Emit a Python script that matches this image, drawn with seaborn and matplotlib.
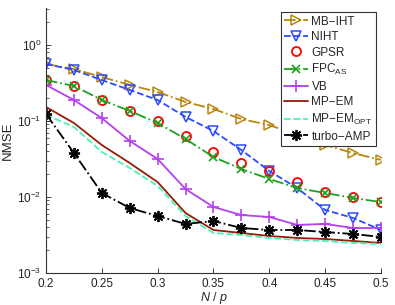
import matplotlib
matplotlib.use("Agg")
import matplotlib.pyplot as plt
import seaborn as sns
import pandas as pd

N_over_p = [0.2, 0.225, 0.25, 0.275, 0.3, 0.325, 0.35, 0.375, 0.4, 0.425, 0.45, 0.475, 0.5]

mb_iht = [0.562, 0.483, 0.379, 0.298, 0.241, 0.178, 0.144, 0.106, 0.0885, 0.0655, 0.0483, 0.0379, 0.0307]
niht = [0.562, 0.469, 0.346, 0.256, 0.189, 0.113, 0.0738, 0.0415, 0.0220, 0.0131, 0.00675, 0.00530, 0.00368]
gpsr = [0.346, 0.289, 0.189, 0.1355, 0.100, 0.0635, 0.0391, 0.0280, 0.0220, 0.0157, 0.0116, 0.0100, 0.00859]
fpc_as = [0.346, 0.289, 0.189, 0.1355, 0.0941, 0.0579, 0.0336, 0.0233, 0.0173, 0.0131, 0.0113, 0.0097, 0.00859]
vb = [0.298, 0.189, 0.109, 0.0546, 0.0316, 0.0127, 0.00738, 0.00579, 0.00546, 0.00429, 0.00442, 0.00391, 0.00391]
mp_em = [0.153, 0.0941, 0.0483, 0.0280, 0.0157, 0.00615, 0.00368, 0.00336, 0.00307, 0.00289, 0.00280, 0.00264, 0.00248]
mp_em_opt = [0.120, 0.0834, 0.0391, 0.0241, 0.0140, 0.00562, 0.00336, 0.00316, 0.00289, 0.00272, 0.00264, 0.00248, 0.00241]
turbo_amp = [0.1236, 0.0379, 0.0113, 0.00716, 0.00562, 0.00442, 0.00483, 0.00391, 0.00368, 0.00368, 0.00346, 0.00326, 0.00298]

x_ticks = [0.2, 0.25, 0.3, 0.35, 0.4, 0.45, 0.5]
x_tick_labels = ["0.2", "0.25", "0.3", "0.35", "0.4", "0.45", "0.5"]

sns.set_theme(style="white")
plt.rcParams["font.family"] = ["Liberation Sans", "DejaVu Sans"]
plt.rcParams["mathtext.fontset"] = "custom"
plt.rcParams["mathtext.rm"] = "Liberation Sans"
plt.rcParams["mathtext.it"] = "Liberation Sans:italic"

fig = plt.figure(figsize=(3.95, 3.05), dpi=100)
ax = fig.add_axes([46/395, 1-273/305, (381-46)/395, (273-8)/305])

series = [
    ("MB\u2212IHT", mb_iht, "#B8860B", "-.",
     dict(marker=">", markersize=6.5, markerfacecolor="none", markeredgewidth=1.1)),
    ("NIHT", niht, "#2A4BFF", "--",
     dict(marker="v", markersize=6.5, markerfacecolor="none", markeredgewidth=1.1)),
    ("GPSR", gpsr, "#FF0000", "None",
     dict(marker="o", markersize=6.5, markerfacecolor="none", markeredgewidth=1.3)),
    ("FPC$_{\\mathrm{AS}}$", fpc_as, "#1EA01E", "-.",
     dict(marker="x", markersize=6, markeredgewidth=1.2)),
    ("VB", vb, "#B540F0", "-",
     dict(marker="+", markersize=8, markeredgewidth=1.2)),
    ("MP\u2212EM", mp_em, "#9A1A05", "-", dict(marker="None")),
    ("MP\u2212EM$_{\\mathrm{OPT}}$", mp_em_opt, "#45F5B5", "--", dict(marker="None")),
    ("turbo\u2212AMP", turbo_amp, "black", "-.",
     dict(marker=(8, 2, 0), markersize=8, markeredgewidth=1.3)),
]

for name, vals, color, ls, mk in series:
    df = pd.DataFrame({"x": N_over_p, "y": vals})
    n_before = len(ax.lines)
    sns.lineplot(data=df, x="x", y="y", ax=ax, label=name, color=color, linewidth=1.3)
    line = ax.lines[n_before]
    line.set_linestyle(ls)
    line.set_marker(mk["marker"])
    if "markersize" in mk:
        line.set_markersize(mk["markersize"])
    if "markeredgewidth" in mk:
        line.set_markeredgewidth(mk["markeredgewidth"])
    line.set_markeredgecolor(color)
    line.set_markerfacecolor(mk.get("markerfacecolor", color))

ax.set_yscale("log")
ax.set_ylim(1e-3, 3.07)
ax.set_xlim(0.2, 0.5)
ax.set_xticks(x_ticks)
ax.set_xticklabels(x_tick_labels)

for s in ["top", "right"]:
    ax.spines[s].set_visible(False)
for s in ["left", "bottom"]:
    ax.spines[s].set_color("#333333")
    ax.spines[s].set_linewidth(0.8)

ax.tick_params(axis="both", which="both", direction="in", labelsize=8.5, colors="#222222")
ax.tick_params(axis="both", which="major", length=3.5, width=0.6, left=True, bottom=True)
ax.tick_params(axis="y", which="minor", length=2, width=0.5, left=True)

ax.set_xlabel("$\\mathit{N}$ / $\\mathit{p}$", fontsize=9, labelpad=0)
ax.set_ylabel("NMSE", fontsize=9.5, labelpad=2)

handles, labels = ax.get_legend_handles_labels()
leg = ax.legend(handles, labels, loc="upper right", bbox_to_anchor=(376/395, 1-12/305),
                bbox_transform=fig.transFigure,
                fontsize=8.5, frameon=True, fancybox=False, framealpha=1, edgecolor="#333333",
                handlelength=2.0, handletextpad=0.3, labelspacing=0.3, borderpad=0.3,
                borderaxespad=0)
leg.get_frame().set_linewidth(0.8)

fig.savefig("out.png", dpi=100)
